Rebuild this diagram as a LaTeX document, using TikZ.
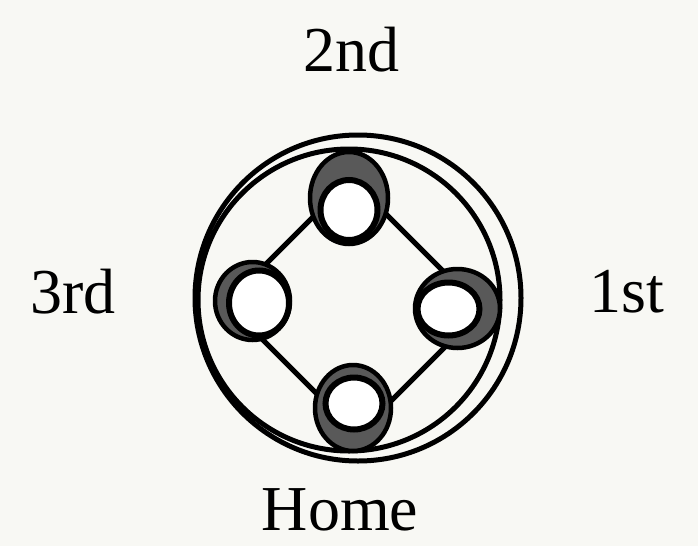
\documentclass[tikz,border=0pt]{standalone}
\usepackage{fontspec}
\setmainfont{Liberation Serif}
\usetikzlibrary{shapes.geometric}
\definecolor{paper}{RGB}{248,248,244}
\begin{document}
\begin{tikzpicture}[x=1pt,y=-1pt,
  lbl/.style={font=\fontsize{64}{64}\selectfont, anchor=base, inner sep=0pt, text depth=0pt},
  ringc/.style={circle, draw=black, line width=5pt, inner sep=0pt},
  outerbase/.style={ellipse, draw=black, line width=4.5pt, fill=black!65, inner sep=0pt},
  hole/.style={ellipse, draw=black, line width=6pt, fill=white, inner sep=0pt},
  diamondline/.style={draw=black, line width=5pt, line join=round}]
\fill[paper] (0,0) rectangle (698,546);
\useasboundingbox (0,0) rectangle (698,546);
% rings
\node[ringc, minimum size=326pt] (outerring) at (358,298) {};
\node[ringc, minimum size=302pt] (innerring) at (349,300) {};
% diamond
\coordinate (v2) at (351,179);
\coordinate (v3) at (226.5,303.5);
\coordinate (v1) at (482,310);
\coordinate (vh) at (357.5,434.5);
\draw[diamondline] (v2) -- (v1) -- (vh) -- (v3) -- cycle;
% bases
\node[outerbase, minimum width=78pt, minimum height=92pt] (b2) at (349,198) {};
\node[hole, minimum width=57pt, minimum height=60pt] (h2) at (349,210) {};
\node[outerbase, minimum width=75pt, minimum height=78pt] (b3) at (252.5,301) {};
\node[hole, minimum width=60pt, minimum height=65pt] (h3) at (259,303) {};
\node[outerbase, minimum width=85pt, minimum height=79pt] (b1) at (457.5,308.5) {};
\node[hole, minimum width=62pt, minimum height=53pt] (h1) at (448.5,309) {};
\node[outerbase, minimum width=76pt, minimum height=86pt] (bh) at (353,408) {};
\node[hole, minimum width=57pt, minimum height=52pt] (hh) at (354,403.5) {};
% labels
\node[lbl] (l2) at (351,71) {2nd};
\node[lbl] (l3) at (73,313) {3rd};
\node[lbl] (l1) at (627,312) {1st};
\node[lbl] (lh) at (340,530) {Home};
\end{tikzpicture}
\end{document}
